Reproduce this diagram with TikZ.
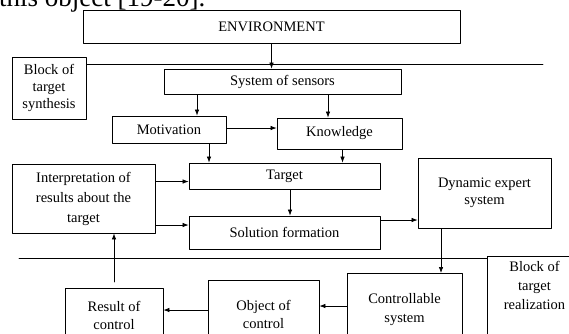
\documentclass[tikz,border=0pt]{standalone}
\usepackage{fontspec}
\setmainfont{Liberation Serif}
\usetikzlibrary{arrows.meta}

\begin{document}
\begin{tikzpicture}[x=1pt, y=-1pt, >={Latex[length=6pt,width=4.5pt]}, line cap=round, line join=round,
  blk/.style={draw, line width=0.8pt, inner sep=2pt, align=center, font=\fontsize{14.5}{18}\selectfont},
  cut/.style={blk, anchor=north, text depth=80pt, font=\fontsize{14.5}{19}\selectfont},
  link/.style={->, line width=0.7pt}]

\useasboundingbox (0,0) rectangle (569,333);
\clip (0,0) rectangle (569,333);

\node[anchor=base west, inner sep=0pt, font=\fontsize{27}{30}\selectfont] (head) at (-1,6) {this object [19-20].};

\node[blk, minimum width=377pt, minimum height=33pt] (env) at (271.5,27) {ENVIRONMENT};
\node[blk, minimum width=74pt, minimum height=62pt, font=\fontsize{14.5}{17}\selectfont] (synth) at (49,88) {Block of\\target\\synthesis};
\node[blk, minimum width=237pt, minimum height=25pt] (sensors) at (282.5,81.5) {System of sensors};
\node[blk, minimum width=114pt, minimum height=27pt] (motiv) at (169,129.5) {Motivation};
\node[blk, minimum width=125pt, minimum height=31pt] (know) at (339.5,133.5) {Knowledge};
\node[blk, minimum width=191pt, minimum height=26pt] (target) at (284.5,176) {Target};
\node[blk, minimum width=143pt, minimum height=69pt, font=\fontsize{14.5}{20}\selectfont] (interp) at (83.5,198.5) {Interpretation of\\results about the\\target};
\node[blk, minimum width=191pt, minimum height=33pt] (sol) at (284.5,232.5) {Solution formation};
\node[blk, minimum width=133pt, minimum height=70pt, font=\fontsize{14.5}{17}\selectfont] (dyn) at (484.5,193) {Dynamic expert\\system};
\node[cut, minimum width=95pt, inner ysep=5pt] (realiz) at (534.5,256) {Block of\\target\\realization};
\node[cut, minimum width=115pt, inner ysep=20pt] (ctrl) at (404.5,273) {Controllable\\system};
\node[cut, minimum width=111pt, inner ysep=20pt, font=\fontsize{14.5}{18}\selectfont] (obj) at (263.5,280) {Object of\\control};
\node[cut, minimum width=98pt, inner ysep=13pt, font=\fontsize{14.5}{18}\selectfont] (res) at (114,288) {Result of\\control};

% separating lines
\coordinate (r1) at (543,64);
\coordinate (l2) at (19,258);
\draw[line width=0.8pt] (synth.east |- r1) -- (r1);
\draw[line width=0.8pt] (l2) -- (l2 -| realiz.west);

% block of target synthesis
\draw[link] (env.south) -- (env.south |- sensors.north);
\draw[link] ([xshift=28pt]motiv.north |- sensors.south) -- ([xshift=28pt]motiv.north);
\draw[link] ([xshift=-11.5pt]know.north |- sensors.south) -- ([xshift=-11.5pt]know.north);
\draw[link] ([yshift=5.5pt]know.west -| motiv.east) -- ([yshift=5.5pt]know.west);
\draw[link] ([xshift=40pt]motiv.south) -- ([xshift=40pt]motiv.south |- target.north);
\draw[link] ([xshift=3pt]know.south) -- ([xshift=3pt]know.south |- target.north);
\draw[link] ([yshift=-5.5pt]target.west -| interp.east) -- ([yshift=-5.5pt]target.west);
\draw[link] ([yshift=7.5pt]sol.west -| interp.east) -- ([yshift=7.5pt]sol.west);
\draw[link] ([xshift=5.5pt]target.south) -- ([xshift=5.5pt]target.south |- sol.north);
\draw[link] ([yshift=12.5pt]sol.east) -- ([yshift=12.5pt]sol.east -| dyn.west);

% block of target realization
\draw[link] ([xshift=-43.5pt]dyn.south) -- ([xshift=-43.5pt]dyn.south |- ctrl.north);
\draw[link] ([yshift=-33pt]ctrl.north west) -- ([yshift=-33pt]ctrl.north west -| obj.east);
\draw[link] ([yshift=-30pt]obj.north west) -- ([yshift=-30pt]obj.north west -| res.east);
\draw[link] ([yshift=6pt]res.north) -- (res.north |- interp.south);

\end{tikzpicture}
\end{document}
